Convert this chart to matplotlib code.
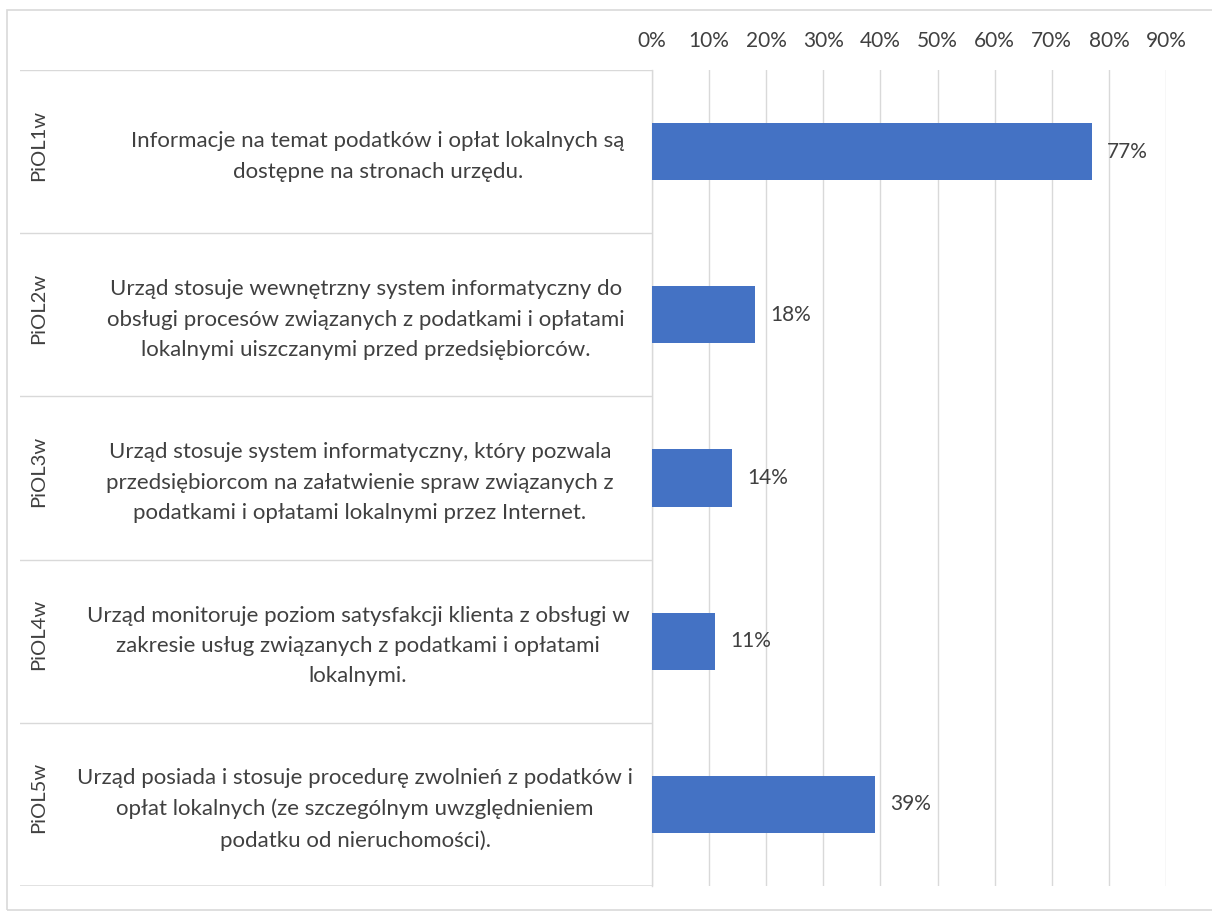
import matplotlib
matplotlib.use("Agg")
import matplotlib.pyplot as plt
from matplotlib.patches import Rectangle
from matplotlib.lines import Line2D

codes = ["PiOL1w", "PiOL2w", "PiOL3w", "PiOL4w", "PiOL5w"]
descriptions = [
    "Informacje na temat podatków i opłat lokalnych są\ndostępne na stronach urzędu.",
    "Urząd stosuje wewnętrzny system informatyczny do\nobsługi procesów związanych z podatkami i opłatami\nlokalnymi uiszczanymi przed przedsiębiorców.",
    "Urząd stosuje system informatyczny, który pozwala\nprzedsiębiorcom na załatwienie spraw związanych z\npodatkami i opłatami lokalnymi przez Internet.",
    "Urząd monitoruje poziom satysfakcji klienta z obsługi w\nzakresie usług związanych z podatkami i opłatami\nlokalnymi.",
    "Urząd posiada i stosuje procedurę zwolnień z podatków i\nopłat lokalnych (ze szczególnym uwzględnieniem\npodatku od nieruchomości).",
]
values = [0.77, 0.18, 0.14, 0.11, 0.39]
value_labels = ["77%", "18%", "14%", "11%", "39%"]
tick_values = [0, 0.1, 0.2, 0.3, 0.4, 0.5, 0.6, 0.7, 0.8, 0.9]
tick_labels = ["0%", "10%", "20%", "30%", "40%", "50%", "60%", "70%", "80%", "90%"]

# layout: horizontal centre (pixels) of each wrapped description block
desc_centers_px = [378, 366, 360, 358, 355]

FONT = "Lato"
TXT = "#404040"
GRID = "#d9d9d9"
W, H = 1212, 911

fig = plt.figure(figsize=(W / 100, H / 100), dpi=100)

def fx(px):
    return px / W

def fy(py):
    return 1 - py / H

# outer chart border
fig.add_artist(Rectangle((fx(7), fy(910)), fx(1220) - fx(7), fy(10) - fy(910),
                         transform=fig.transFigure, fill=False, edgecolor=GRID, lw=1.2))

top_px, bot_px = 70, 886
left_px, right_px = 652, 1166
ax = fig.add_axes([fx(left_px), fy(bot_px), fx(right_px) - fx(left_px), fy(top_px) - fy(bot_px)])

n = len(values)
ypos = list(range(n))
ax.barh(ypos, values, height=0.35, color="#4472c4", zorder=3)
ax.set_ylim(n - 0.5, -0.5)
ax.set_xlim(0, 0.9)
ax.set_xticks(tick_values)
ax.set_xticklabels(tick_labels, fontsize=15, color=TXT, family=FONT)
ax.xaxis.tick_top()
ax.tick_params(axis="x", length=0, pad=14)
ax.set_yticks([])
ax.grid(axis="x", color=GRID, lw=1.0, zorder=0)
for s in ["top", "right", "bottom"]:
    ax.spines[s].set_visible(False)
ax.spines["left"].set_color(GRID)
ax.spines["left"].set_linewidth(1.0)

for y, v, lab in zip(ypos, values, value_labels):
    ax.annotate(lab, (v, y), xytext=(11, 0), textcoords="offset points",
                va="center", ha="left", fontsize=15, color=TXT, family=FONT)

# left category table
lax = fig.add_axes([fx(20), fy(bot_px), fx(left_px) - fx(20), fy(top_px) - fy(bot_px)])
lax.set_xlim(20, left_px)
lax.set_ylim(n - 0.5, -0.5)
lax.axis("off")
for i in range(n + 1):
    lw = 1.8 if i == n else 1.0
    lax.add_line(Line2D([20, left_px], [i - 0.5, i - 0.5], color=GRID, lw=lw))
for y, code, desc, cx in zip(ypos, codes, descriptions, desc_centers_px):
    lax.text(39, y - 0.04, code, rotation=90, ha="center", va="center",
             fontsize=14.5, color=TXT, family=FONT)
    lax.text(cx, y + 0.03, desc, ha="center", va="center", fontsize=16,
             color=TXT, family=FONT, linespacing=1.65)

fig.savefig("out.png", dpi=100)
